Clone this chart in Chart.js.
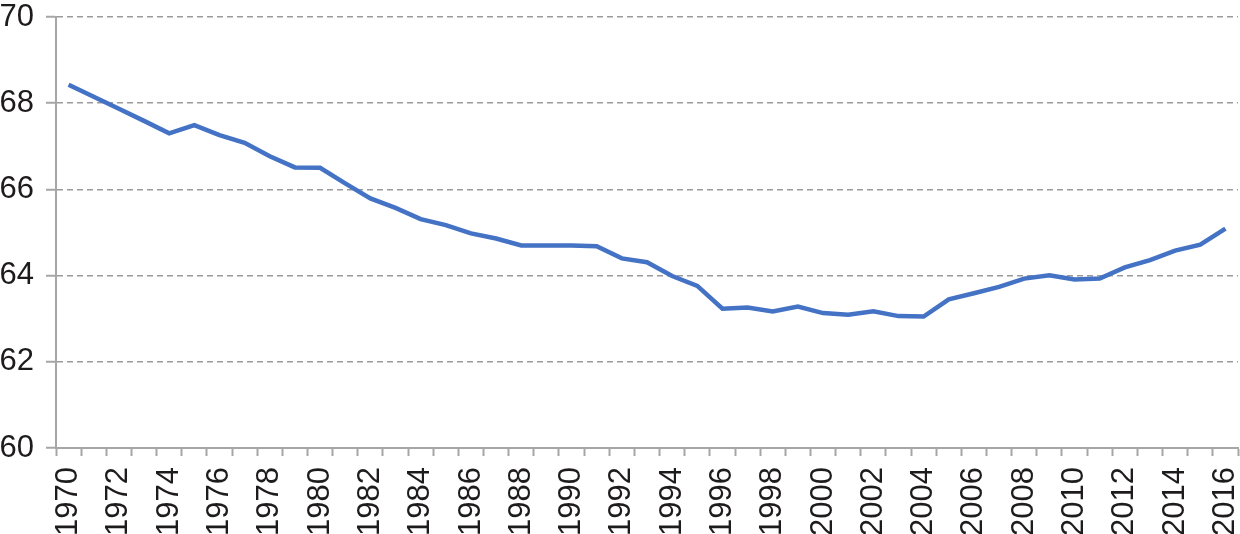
<!DOCTYPE html>
<html>
<head>
<meta charset="utf-8">
<script src="https://cdn.jsdelivr.net/npm/chart.js@4/dist/chart.umd.min.js"></script>
<style>
  html, body { margin: 0; padding: 0; background: #fff; }
  #wrap { width: 1240px; height: 534px; }
</style>
</head>
<body>
<div id="wrap"><canvas id="chart"></canvas></div>
<script>
// Years 1970..2016
const years = [
    1970, 1971, 1972, 1973, 1974, 1975, 1976, 1977, 1978, 1979,
    1980, 1981, 1982, 1983, 1984, 1985, 1986, 1987, 1988, 1989,
    1990, 1991, 1992, 1993, 1994, 1995, 1996, 1997, 1998, 1999,
    2000, 2001, 2002, 2003, 2004, 2005, 2006, 2007, 2008, 2009,
    2010, 2011, 2012, 2013, 2014, 2015, 2016
];

// Values
const values = [
    68.43, 68.15, 67.87, 67.59, 67.30, 67.49, 67.26, 67.08, 66.77, 66.51,
    66.50, 66.14, 65.79, 65.57, 65.31, 65.17, 64.98, 64.86, 64.70, 64.70,
    64.70, 64.68, 64.40, 64.31, 63.99, 63.76, 63.23, 63.26, 63.17, 63.28,
    63.13, 63.09, 63.17, 63.06, 63.05, 63.45, 63.59, 63.74, 63.93, 64.01,
    63.91, 63.93, 64.19, 64.36, 64.58, 64.72, 65.09
];

const yMin = 60;
const yMax = 70;
const yStep = 2;

const axisGray = '#a6a6a6';
const gridGray = '#9b9b9b';
const textColor = '#1e1b1c';
const tickFont = { family: '"Liberation Sans", Arial, Helvetica, sans-serif', size: 31 };

Chart.defaults.color = textColor;

new Chart(document.getElementById('chart'), {
    type: 'line',
    data: {
        labels: years.map(String),
        datasets: [{
            data: values,
            borderColor: '#4472c4',
            borderWidth: 4.5,
            pointRadius: 0,
            tension: 0,
            fill: false,
        }]
    },
    options: {
        responsive: true,
        maintainAspectRatio: false,
        animation: false,
        layout: { padding: { top: 17, right: 2, left: 0, bottom: 0 } },
        plugins: {
            legend: { display: false },
            tooltip: { enabled: false },
        },
        scales: {
            x: {
                offset: true,
                grid: {
                    offset: true,
                    drawOnChartArea: false,
                    drawTicks: true,
                    tickLength: 8,
                    tickColor: axisGray,
                    tickWidth: 2,
                },
                border: { color: axisGray, width: 2 },
                ticks: {
                    font: tickFont,
                    autoSkip: false,
                    maxRotation: 90,
                    minRotation: 90,
                    padding: 11,
                    callback: function (val, i) {
                        return i % 2 === 0 ? this.getLabelForValue(val) : '';
                    },
                },
                afterFit: (scale) => {
                    scale.height = 86;
                    scale.paddingLeft = 0;
                    scale.paddingRight = 0;
                },
            },
            y: {
                min: yMin,
                max: yMax,
                grid: {
                    color: gridGray,
                    lineWidth: 1.5,
                    tickLength: 10,
                    tickColor: axisGray,
                    tickWidth: 2,
                    tickBorderDash: [],
                },
                border: { color: axisGray, width: 2, dash: [6, 4] },
                ticks: {
                    font: tickFont,
                    stepSize: yStep,
                    padding: 12,
                },
                afterFit: (scale) => {
                    scale.width = 56;
                    scale.paddingTop = 0;
                    scale.paddingBottom = 0;
                },
            },
        },
    },
});
</script>
</body>
</html>
